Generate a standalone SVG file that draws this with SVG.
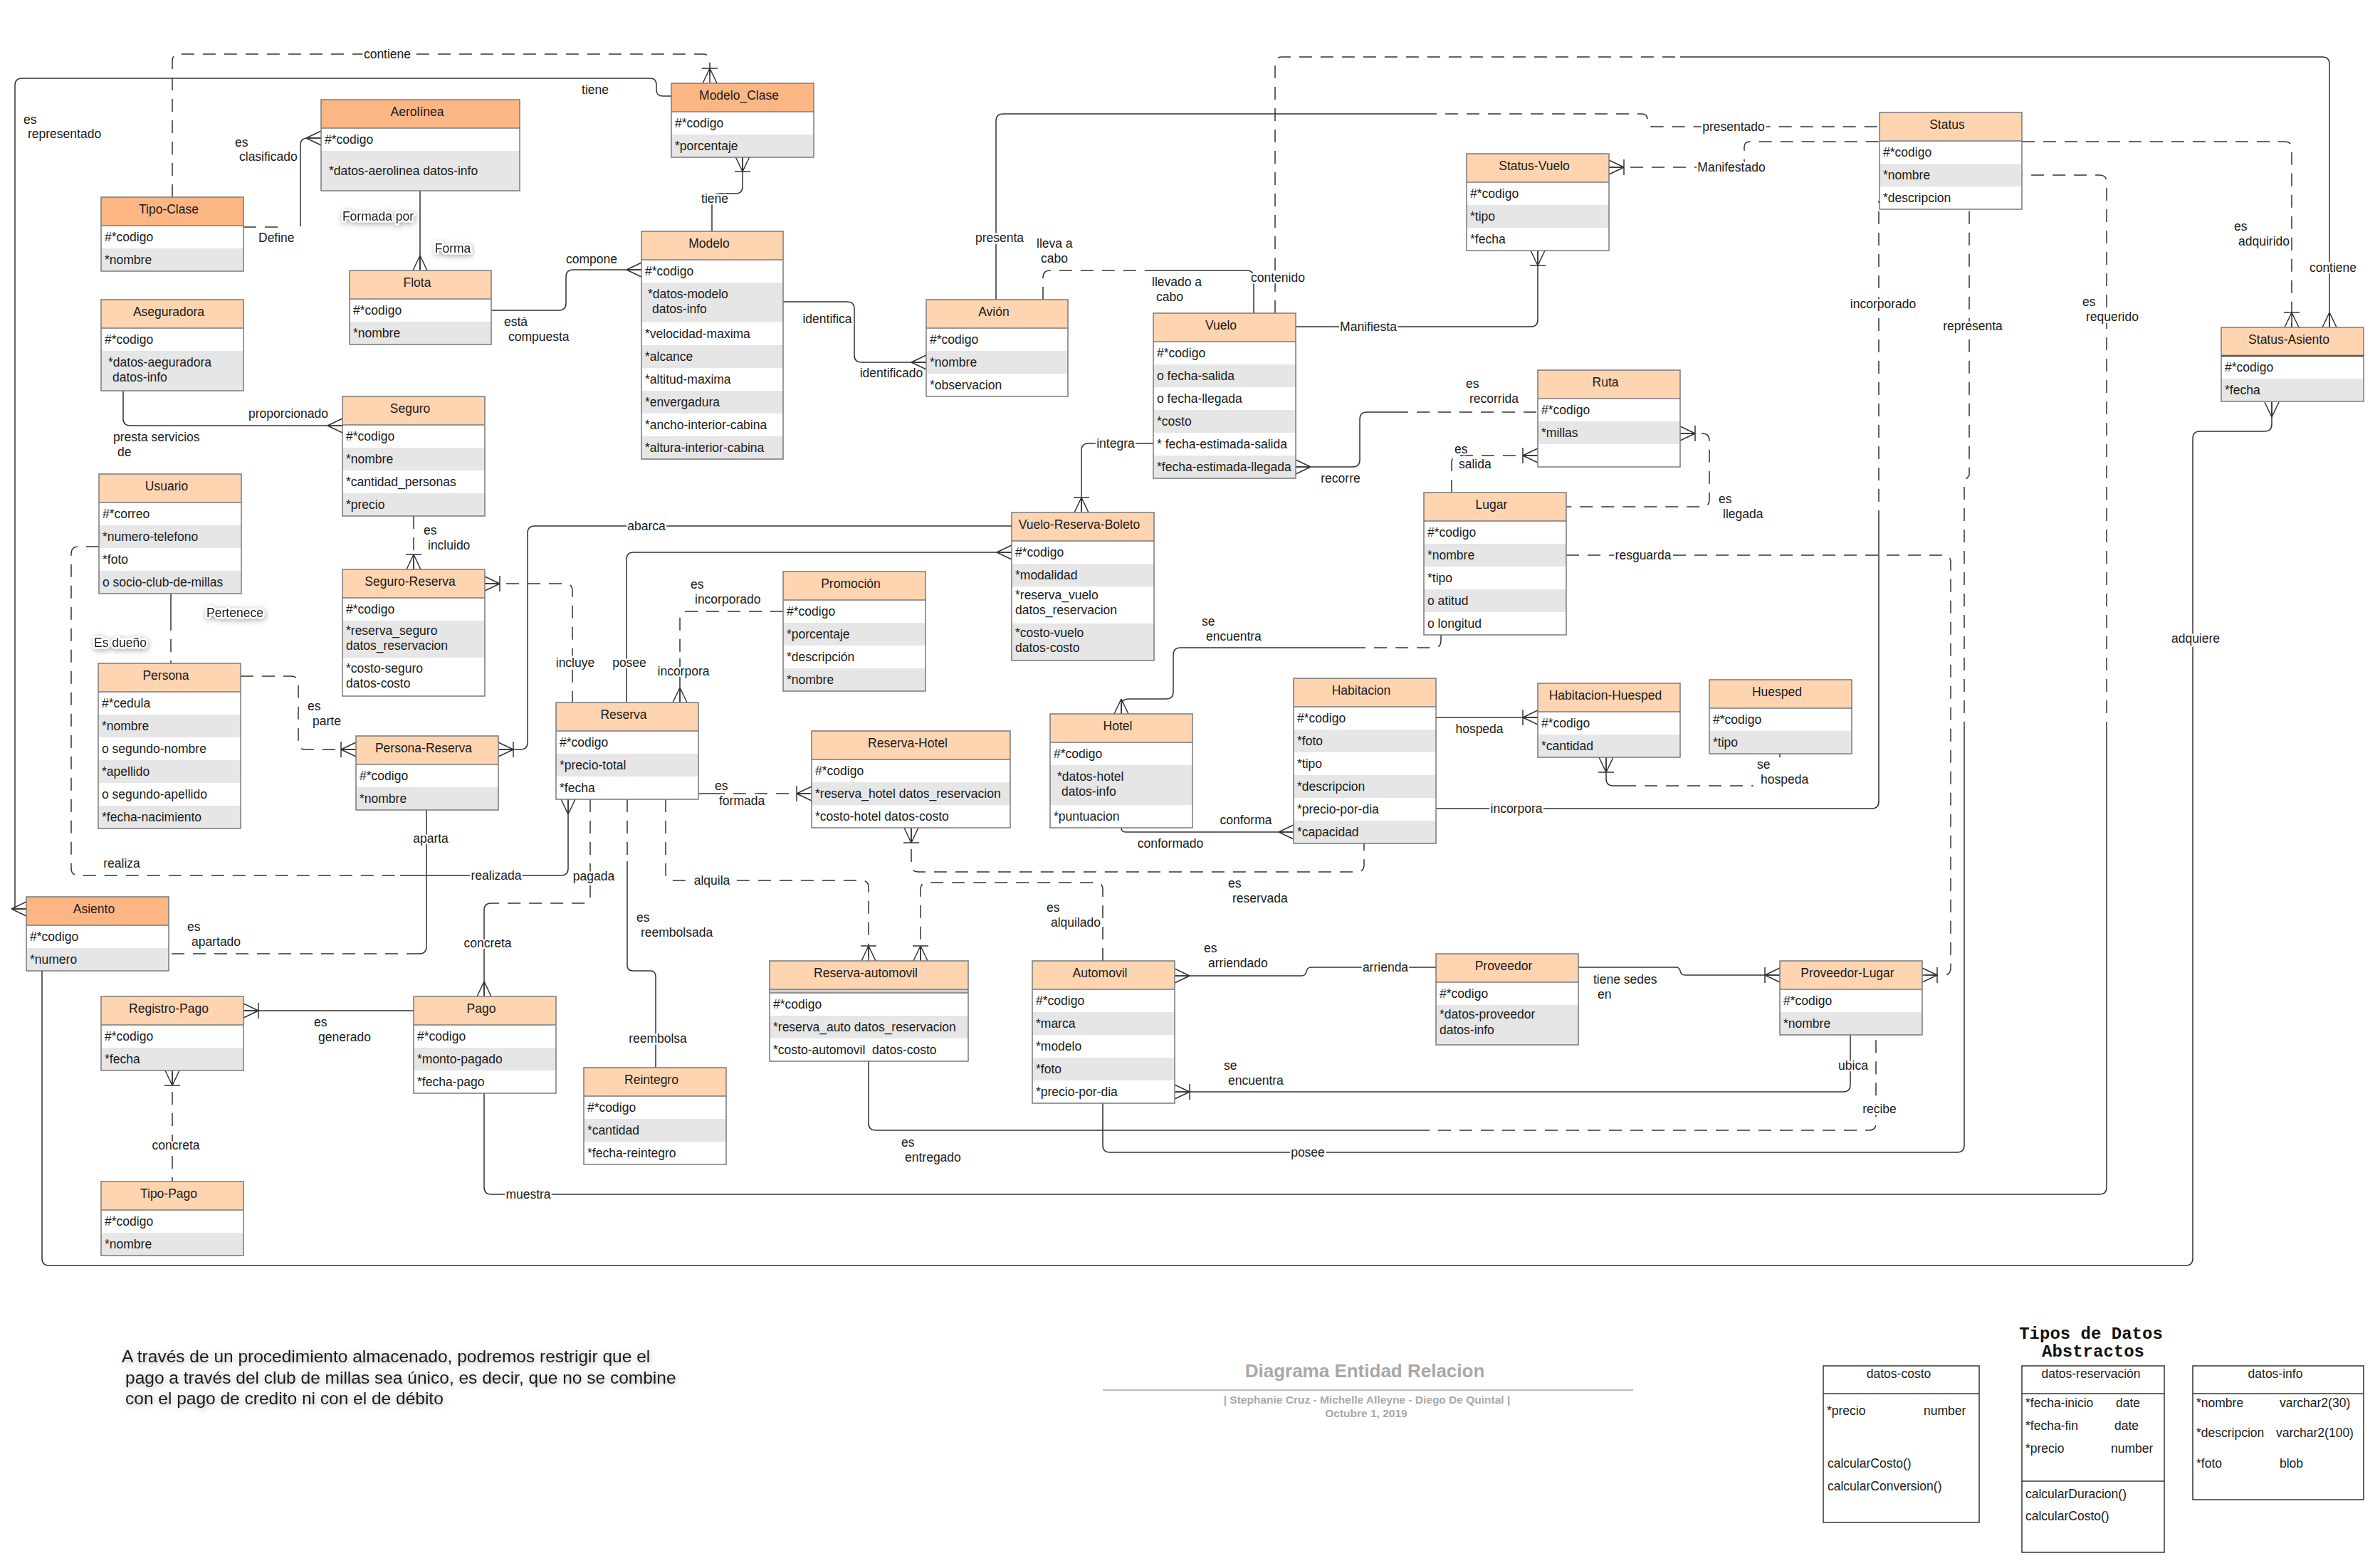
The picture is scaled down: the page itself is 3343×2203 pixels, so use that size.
<svg xmlns="http://www.w3.org/2000/svg" xmlns:xlink="http://www.w3.org/1999/xlink" width="3343" height="2203" viewBox="0 0 3343 2203">
<style>
.hd1{fill:#FFD4B0}
.hd2{fill:#FCB684}
.sh{fill:#E6E6E6}
.wt{fill:#FFFFFF}
.bd{fill:#D0D0D0}
.bx{fill:none;stroke:#7A7A7A;stroke-width:1.5}
.sp{fill:none;stroke:#7A7A7A;stroke-width:1.5}
.ht{font-family:"Liberation Sans",Arial,sans-serif;font-size:17.5px;fill:#1A1A1A;text-anchor:middle}
.rt{font-family:"Liberation Sans",Arial,sans-serif;font-size:17.5px;fill:#1A1A1A}
.lb{font-family:"Liberation Sans",Arial,sans-serif;font-size:17.5px;fill:#1A1A1A;paint-order:stroke;stroke:#FFFFFF;stroke-width:5;stroke-linejoin:round}
.c{text-anchor:middle}
.s{fill:none;stroke:#333333;stroke-width:1.5}
.d{fill:none;stroke:#333333;stroke-width:1.5;stroke-dasharray:18 12}
.mk{fill:none;stroke:#333333;stroke-width:1.5}
.gl{filter:url(#glow)}
.ttl{font-family:"Liberation Sans",Arial,sans-serif;font-weight:bold;fill:#A8A8A8;text-anchor:middle}
.adt{fill:#FFFFFF;stroke:#333333;stroke-width:1.5}
.mono{font-family:"Liberation Mono","Courier New",monospace;font-weight:bold;font-size:24px;fill:#111111;text-anchor:middle}
</style>
<defs>
<path id="m-many" d="M0,-10L21,0M0,0H21M0,10L21,0"/>
<path id="m-one-many" d="M0,-10L21,0M0,0H21M0,10L21,0M21,-11V11"/>
<filter id="glow" x="-10%" y="-60%" width="120%" height="220%">
<feGaussianBlur in="SourceAlpha" stdDeviation="4" result="b"/>
<feFlood flood-color="#000000" flood-opacity="0.35"/>
<feComposite in2="b" operator="in"/>
<feOffset dx="1" dy="2"/>
<feMerge><feMergeNode/><feMergeNode in="SourceGraphic"/></feMerge>
</filter>
</defs>
<rect width="3343" height="2203" fill="#FFFFFF"/>

<!-- relationship lines -->
<g id="connectors">
<path class="d" d="M242,277V86Q242,76 252,76H987Q997,76 997,86V117"/>
<path class="s" d="M943,135H931Q922,135 922,126V119Q922,110 913,110H31Q21,110 21,120V1277H37"/>
<path class="d" d="M342,319H392"/>
<path class="s" d="M422,318V204Q422,194 432,194H451"/>
<path class="s" d="M590,268V380"/>
<path class="s" d="M690,436H785Q795,436 795,426V389Q795,379 805,379H901"/>
<path class="s" d="M1043,220V262Q1043,272 1033,272H1010Q1000,272 1000,282V325"/>
<path class="s" d="M1100,424H1190Q1200,424 1200,434V499Q1200,509 1210,509H1301"/>
<path class="d" d="M1465,421V390Q1465,380 1475,380H1615"/>
<path class="s" d="M1615,380H1751Q1761,380 1761,390V440"/>
<path class="s" d="M1399,421V170Q1399,160 1409,160H2000"/>
<path class="d" d="M2000,160H2306Q2314,160 2314,168V170Q2314,178 2322,178H2640"/>
<path class="d" d="M1791,440V90Q1791,80 1801,80H2360"/>
<path class="s" d="M2360,80H3262Q3272,80 3272,90V460"/>
<path class="d" d="M2260,235H2442Q2450,235 2450,227V207Q2450,199 2458,199H2640"/>
<path class="d" d="M2840,199H3209Q3219,199 3219,209V460"/>
<path class="s" d="M1820,459H2150Q2160,459 2160,449V352"/>
<path class="s" d="M1820,656H1900Q1910,656 1910,646V589Q1910,579 1920,579H1960"/>
<path class="d" d="M1960,579H2160"/>
<path class="d" d="M2039,692V650Q2039,640 2049,640H2160"/>
<path class="d" d="M2360,609H2391Q2401,609 2401,619V702Q2401,712 2391,712H2200"/>
<path class="d" d="M2200,780H2730Q2740,780 2740,790V1360Q2740,1370 2730,1370H2700"/>
<path class="s" d="M2017,1136H2629Q2639,1136 2639,1126V735"/>
<path class="d" d="M2639,735V282"/>
<path class="s" d="M1549,1550V1609Q1549,1619 1559,1619H2749Q2759,1619 2759,1609V1032"/>
<path class="d" d="M2759,1032V676L2766,668V294"/>
<path class="s" d="M680,1536V1668Q680,1678 690,1678H2949Q2959,1678 2959,1668V1032"/>
<path class="d" d="M2959,1032V256Q2959,246 2949,246H2840"/>
<path class="s" d="M59,1364V1768Q59,1778 69,1778H3070Q3080,1778 3080,1768V616Q3080,606 3090,606H3181Q3191,606 3191,596V565"/>
<path class="s" d="M240,834V868"/>
<path class="d" d="M240,868V932"/>
<path class="d" d="M139,768H110Q100,768 100,778V1220Q100,1230 110,1230H562"/>
<path class="s" d="M562,1230H788Q798,1230 798,1220V1123"/>
<path class="d" d="M338,950H409Q419,950 419,960V1043Q419,1053 429,1053H500"/>
<path class="d" d="M581,725V800"/>
<path class="d" d="M681,820H794Q804,820 804,830V987"/>
<path class="s" d="M173,549V588Q173,598 183,598H481"/>
<path class="s" d="M700,1053H731Q741,1053 741,1043V749Q741,739 751,739H1421"/>
<path class="s" d="M880,987V786Q880,776 890,776H1421"/>
<path class="d" d="M1100,859H965Q955,859 955,869V925"/>
<path class="s" d="M955,925V987"/>
<path class="s" d="M981,1115H1000"/>
<path class="d" d="M1000,1115H1140"/>
<path class="d" d="M829,1123V1259Q829,1269 819,1269H690"/>
<path class="s" d="M690,1269Q680,1269 680,1279V1400"/>
<path class="s" d="M599,1138V1330Q599,1340 589,1340"/>
<path class="d" d="M589,1340H237"/>
<path class="d" d="M881,1123V1210"/>
<path class="s" d="M881,1210V1356Q881,1364 889,1364H913Q921,1364 921,1372V1500"/>
<path class="d" d="M935,1123V1227Q935,1237 945,1237H1210Q1220,1237 1220,1247V1350"/>
<path class="d" d="M1280,1163V1215Q1280,1225 1290,1225H1906Q1916,1225 1916,1215V1185"/>
<path class="d" d="M1549,1350V1250Q1549,1240 1539,1240H1303Q1293,1240 1293,1250V1350"/>
<path class="d" d="M2024,892V900Q2024,910 2014,910H1904"/>
<path class="s" d="M1904,910H1658Q1648,910 1648,920V972Q1648,982 1638,982H1585Q1575,982 1575,992V1003"/>
<path class="s" d="M1575,1163Q1575,1169 1581,1169H1817"/>
<path class="s" d="M2017,1008H2160"/>
<path class="s" d="M2256,1064V1094Q2256,1104 2266,1104H2280"/>
<path class="d" d="M2280,1104H2463"/>
<path class="s" d="M2500,1059V1064"/>
<path class="s" d="M1650,1371H1828Q1834,1371 1835,1365Q1836,1359 1842,1359H2017"/>
<path class="s" d="M2217,1359H2354Q2359,1359 2360,1364Q2361,1370 2367,1370H2500"/>
<path class="s" d="M1650,1534H2589Q2599,1534 2599,1524V1454"/>
<path class="s" d="M1220,1491V1578Q1220,1588 1230,1588H1990"/>
<path class="d" d="M1990,1588H2625Q2635,1588 2635,1578V1454"/>
<path class="s" d="M581,1420H342"/>
<path class="d" d="M242,1504V1660"/>
<path class="s" d="M1620,623H1529Q1519,623 1519,633V720"/>

<!-- cardinality ends -->
<use href="#m-one-many" class="mk" transform="translate(997,117) rotate(-90)"/>
<use href="#m-many" class="mk" transform="translate(37,1277) rotate(180)"/>
<use href="#m-many" class="mk" transform="translate(451,194) rotate(180)"/>
<use href="#m-many" class="mk" transform="translate(590,380) rotate(-90)"/>
<use href="#m-many" class="mk" transform="translate(901,379) rotate(180)"/>
<use href="#m-one-many" class="mk" transform="translate(1043,220) rotate(90)"/>
<use href="#m-many" class="mk" transform="translate(1301,509) rotate(180)"/>
<use href="#m-many" class="mk" transform="translate(3272,460) rotate(-90)"/>
<use href="#m-one-many" class="mk" transform="translate(2260,235)"/>
<use href="#m-one-many" class="mk" transform="translate(3219,460) rotate(-90)"/>
<use href="#m-one-many" class="mk" transform="translate(2160,352) rotate(90)"/>
<use href="#m-many" class="mk" transform="translate(1820,656)"/>
<use href="#m-one-many" class="mk" transform="translate(2160,640) rotate(180)"/>
<use href="#m-one-many" class="mk" transform="translate(2360,609)"/>
<use href="#m-one-many" class="mk" transform="translate(2700,1370)"/>
<use href="#m-many" class="mk" transform="translate(3191,565) rotate(90)"/>
<use href="#m-many" class="mk" transform="translate(798,1123) rotate(90)"/>
<use href="#m-one-many" class="mk" transform="translate(500,1053) rotate(180)"/>
<use href="#m-one-many" class="mk" transform="translate(581,800) rotate(-90)"/>
<use href="#m-one-many" class="mk" transform="translate(681,820)"/>
<use href="#m-many" class="mk" transform="translate(481,598) rotate(180)"/>
<use href="#m-one-many" class="mk" transform="translate(700,1053)"/>
<use href="#m-many" class="mk" transform="translate(1421,776) rotate(180)"/>
<use href="#m-many" class="mk" transform="translate(955,987) rotate(-90)"/>
<use href="#m-one-many" class="mk" transform="translate(1140,1115) rotate(180)"/>
<use href="#m-many" class="mk" transform="translate(680,1400) rotate(-90)"/>
<use href="#m-one-many" class="mk" transform="translate(1220,1350) rotate(-90)"/>
<use href="#m-one-many" class="mk" transform="translate(1280,1163) rotate(90)"/>
<use href="#m-one-many" class="mk" transform="translate(1293,1350) rotate(-90)"/>
<use href="#m-many" class="mk" transform="translate(1575,1003) rotate(-90)"/>
<use href="#m-many" class="mk" transform="translate(1817,1169) rotate(180)"/>
<use href="#m-one-many" class="mk" transform="translate(2160,1008) rotate(180)"/>
<use href="#m-one-many" class="mk" transform="translate(2256,1064) rotate(90)"/>
<use href="#m-many" class="mk" transform="translate(1650,1371)"/>
<use href="#m-one-many" class="mk" transform="translate(2500,1370) rotate(180)"/>
<use href="#m-one-many" class="mk" transform="translate(1650,1534)"/>
<use href="#m-one-many" class="mk" transform="translate(342,1420)"/>
<use href="#m-one-many" class="mk" transform="translate(242,1504) rotate(90)"/>
<use href="#m-one-many" class="mk" transform="translate(1519,720) rotate(-90)"/>
</g>

<!-- entities -->
<g id="n-modelo-clase" transform="translate(943,117)">
<rect class="hd2" width="200" height="40"/><rect class="wt" y="40" width="200" height="32"/><rect class="sh" y="72" width="200" height="32"/>
<rect class="bx" width="200" height="104"/><path class="sp" d="M0,40H200"/>
<text class="ht" x="95" y="23">Modelo_Clase</text>
<text class="rt" x="5" y="62">#*codigo</text><text class="rt" x="5" y="94">*porcentaje</text>
</g>
<g id="n-aerolinea" transform="translate(451,140)">
<rect class="hd2" width="279" height="40"/><rect class="wt" y="40" width="279" height="32"/><rect class="sh" y="72" width="279" height="56"/>
<rect class="bx" width="279" height="128"/><path class="sp" d="M0,40H279"/>
<text class="ht" x="135" y="23">Aerolínea</text>
<text class="rt" x="5" y="62">#*codigo</text><text class="rt" x="11" y="106">*datos-aerolinea datos-info</text>
</g>
<g id="n-tipo-clase" transform="translate(142,277)">
<rect class="hd2" width="200" height="40"/><rect class="wt" y="40" width="200" height="32"/><rect class="sh" y="72" width="200" height="32"/>
<rect class="bx" width="200" height="104"/><path class="sp" d="M0,40H200"/>
<text class="ht" x="95" y="23">Tipo-Clase</text>
<text class="rt" x="5" y="62">#*codigo</text><text class="rt" x="5" y="94">*nombre</text>
</g>
<g id="n-flota" transform="translate(491,380)">
<rect class="hd1" width="199" height="40"/><rect class="wt" y="40" width="199" height="32"/><rect class="sh" y="72" width="199" height="32"/>
<rect class="bx" width="199" height="104"/><path class="sp" d="M0,40H199"/>
<text class="ht" x="95" y="23">Flota</text>
<text class="rt" x="5" y="62">#*codigo</text><text class="rt" x="5" y="94">*nombre</text>
</g>
<g id="n-modelo" transform="translate(901,325)">
<rect class="hd1" width="199" height="40"/><rect class="wt" y="40" width="199" height="280"/>
<rect class="sh" y="72" width="199" height="56"/><rect class="sh" y="160" width="199" height="32"/><rect class="sh" y="224" width="199" height="32"/><rect class="sh" y="288" width="199" height="32"/>
<rect class="bx" width="199" height="320"/><path class="sp" d="M0,40H199"/>
<text class="ht" x="95" y="23">Modelo</text>
<text class="rt" x="5" y="62">#*codigo</text>
<text class="rt" x="9" y="94">*datos-modelo</text><text class="rt" x="15" y="115">datos-info</text>
<text class="rt" x="5" y="150">*velocidad-maxima</text>
<text class="rt" x="5" y="182">*alcance</text>
<text class="rt" x="5" y="214">*altitud-maxima</text>
<text class="rt" x="5" y="246">*envergadura</text>
<text class="rt" x="5" y="278">*ancho-interior-cabina</text>
<text class="rt" x="5" y="310">*altura-interior-cabina</text>
</g>
<g id="n-aseguradora" transform="translate(142,421)">
<rect class="hd1" width="200" height="40"/><rect class="wt" y="40" width="200" height="32"/><rect class="sh" y="72" width="200" height="56"/>
<rect class="bx" width="200" height="128"/><path class="sp" d="M0,40H200"/>
<text class="ht" x="95" y="23">Aseguradora</text>
<text class="rt" x="5" y="62">#*codigo</text>
<text class="rt" x="10" y="94">*datos-aeguradora</text><text class="rt" x="16" y="115">datos-info</text>
</g>
<g id="n-seguro" transform="translate(481,557)">
<rect class="hd1" width="200" height="40"/><rect class="wt" y="40" width="200" height="128"/>
<rect class="sh" y="72" width="200" height="32"/><rect class="sh" y="136" width="200" height="32"/>
<rect class="bx" width="200" height="168"/><path class="sp" d="M0,40H200"/>
<text class="ht" x="95" y="23">Seguro</text>
<text class="rt" x="5" y="62">#*codigo</text><text class="rt" x="5" y="94">*nombre</text>
<text class="rt" x="5" y="126">*cantidad_personas</text><text class="rt" x="5" y="158">*precio</text>
</g>
<g id="n-usuario" transform="translate(139,666)">
<rect class="hd1" width="200" height="40"/><rect class="wt" y="40" width="200" height="128"/>
<rect class="sh" y="72" width="200" height="32"/><rect class="sh" y="136" width="200" height="32"/>
<rect class="bx" width="200" height="168"/><path class="sp" d="M0,40H200"/>
<text class="ht" x="95" y="23">Usuario</text>
<text class="rt" x="5" y="62">#*correo</text><text class="rt" x="5" y="94">*numero-telefono</text>
<text class="rt" x="5" y="126">*foto</text><text class="rt" x="5" y="158">o socio-club-de-millas</text>
</g>
<g id="n-seguro-reserva" transform="translate(481,800)">
<rect class="hd1" width="200" height="40"/><rect class="wt" y="40" width="200" height="138"/>
<rect class="sh" y="72" width="200" height="52"/>
<rect class="bx" width="200" height="178"/><path class="sp" d="M0,40H200"/>
<text class="ht" x="95" y="23">Seguro-Reserva</text>
<text class="rt" x="5" y="62">#*codigo</text>
<text class="rt" x="5" y="92">*reserva_seguro</text><text class="rt" x="5" y="113">datos_reservacion</text>
<text class="rt" x="5" y="145">*costo-seguro</text><text class="rt" x="5" y="166">datos-costo</text>
</g>
<g id="n-persona" transform="translate(138,932)">
<rect class="hd1" width="200" height="40"/><rect class="wt" y="40" width="200" height="192"/>
<rect class="sh" y="72" width="200" height="32"/><rect class="sh" y="136" width="200" height="32"/><rect class="sh" y="200" width="200" height="32"/>
<rect class="bx" width="200" height="232"/><path class="sp" d="M0,40H200"/>
<text class="ht" x="95" y="23">Persona</text>
<text class="rt" x="5" y="62">#*cedula</text><text class="rt" x="5" y="94">*nombre</text>
<text class="rt" x="5" y="126">o segundo-nombre</text><text class="rt" x="5" y="158">*apellido</text>
<text class="rt" x="5" y="190">o segundo-apellido</text><text class="rt" x="5" y="222">*fecha-nacimiento</text>
</g>
<g id="n-persona-reserva" transform="translate(500,1034)">
<rect class="hd1" width="200" height="40"/><rect class="wt" y="40" width="200" height="32"/><rect class="sh" y="72" width="200" height="32"/>
<rect class="bx" width="200" height="104"/><path class="sp" d="M0,40H200"/>
<text class="ht" x="95" y="23">Persona-Reserva</text>
<text class="rt" x="5" y="62">#*codigo</text><text class="rt" x="5" y="94">*nombre</text>
</g>
<g id="n-reserva" transform="translate(781,987)">
<rect class="hd1" width="200" height="40"/><rect class="wt" y="40" width="200" height="96"/><rect class="sh" y="72" width="200" height="32"/>
<rect class="bx" width="200" height="136"/><path class="sp" d="M0,40H200"/>
<text class="ht" x="95" y="23">Reserva</text>
<text class="rt" x="5" y="62">#*codigo</text><text class="rt" x="5" y="94">*precio-total</text><text class="rt" x="5" y="126">*fecha</text>
</g>
<g id="n-asiento" transform="translate(37,1260)">
<rect class="hd2" width="200" height="40"/><rect class="wt" y="40" width="200" height="32"/><rect class="sh" y="72" width="200" height="32"/>
<rect class="bx" width="200" height="104"/><path class="sp" d="M0,40H200"/>
<text class="ht" x="95" y="23">Asiento</text>
<text class="rt" x="5" y="62">#*codigo</text><text class="rt" x="5" y="94">*numero</text>
</g>
<g id="n-registro-pago" transform="translate(142,1400)">
<rect class="hd1" width="200" height="40"/><rect class="wt" y="40" width="200" height="32"/><rect class="sh" y="72" width="200" height="32"/>
<rect class="bx" width="200" height="104"/><path class="sp" d="M0,40H200"/>
<text class="ht" x="95" y="23">Registro-Pago</text>
<text class="rt" x="5" y="62">#*codigo</text><text class="rt" x="5" y="94">*fecha</text>
</g>
<g id="n-pago" transform="translate(581,1400)">
<rect class="hd1" width="200" height="40"/><rect class="wt" y="40" width="200" height="96"/><rect class="sh" y="72" width="200" height="32"/>
<rect class="bx" width="200" height="136"/><path class="sp" d="M0,40H200"/>
<text class="ht" x="95" y="23">Pago</text>
<text class="rt" x="5" y="62">#*codigo</text><text class="rt" x="5" y="94">*monto-pagado</text><text class="rt" x="5" y="126">*fecha-pago</text>
</g>
<g id="n-tipo-pago" transform="translate(142,1660)">
<rect class="hd1" width="200" height="40"/><rect class="wt" y="40" width="200" height="32"/><rect class="sh" y="72" width="200" height="32"/>
<rect class="bx" width="200" height="104"/><path class="sp" d="M0,40H200"/>
<text class="ht" x="95" y="23">Tipo-Pago</text>
<text class="rt" x="5" y="62">#*codigo</text><text class="rt" x="5" y="94">*nombre</text>
</g>
<g id="n-reintegro" transform="translate(820,1500)">
<rect class="hd1" width="200" height="40"/><rect class="wt" y="40" width="200" height="96"/><rect class="sh" y="72" width="200" height="32"/>
<rect class="bx" width="200" height="136"/><path class="sp" d="M0,40H200"/>
<text class="ht" x="95" y="23">Reintegro</text>
<text class="rt" x="5" y="62">#*codigo</text><text class="rt" x="5" y="94">*cantidad</text><text class="rt" x="5" y="126">*fecha-reintegro</text>
</g>
<g id="n-promocion" transform="translate(1100,803)">
<rect class="hd1" width="200" height="40"/><rect class="wt" y="40" width="200" height="128"/>
<rect class="sh" y="72" width="200" height="32"/><rect class="sh" y="136" width="200" height="32"/>
<rect class="bx" width="200" height="168"/><path class="sp" d="M0,40H200"/>
<text class="ht" x="95" y="23">Promoción</text>
<text class="rt" x="5" y="62">#*codigo</text><text class="rt" x="5" y="94">*porcentaje</text>
<text class="rt" x="5" y="126">*descripción</text><text class="rt" x="5" y="158">*nombre</text>
</g>
<g id="n-vuelo-reserva-boleto" transform="translate(1421,720)">
<rect class="hd1" width="200" height="40"/><rect class="wt" y="40" width="200" height="168"/>
<rect class="sh" y="72" width="200" height="32"/><rect class="sh" y="156" width="200" height="52"/>
<rect class="bx" width="200" height="208"/><path class="sp" d="M0,40H200"/>
<text class="ht" x="95" y="23">Vuelo-Reserva-Boleto</text>
<text class="rt" x="5" y="62">#*codigo</text><text class="rt" x="5" y="94">*modalidad</text>
<text class="rt" x="5" y="122">*reserva_vuelo</text><text class="rt" x="5" y="143">datos_reservacion</text>
<text class="rt" x="5" y="175">*costo-vuelo</text><text class="rt" x="5" y="196">datos-costo</text>
</g>
<g id="n-avion" transform="translate(1301,421)">
<rect class="hd1" width="199" height="40"/><rect class="wt" y="40" width="199" height="96"/><rect class="sh" y="72" width="199" height="32"/>
<rect class="bx" width="199" height="136"/><path class="sp" d="M0,40H199"/>
<text class="ht" x="95" y="23">Avión</text>
<text class="rt" x="5" y="62">#*codigo</text><text class="rt" x="5" y="94">*nombre</text><text class="rt" x="5" y="126">*observacion</text>
</g>
<g id="n-vuelo" transform="translate(1620,440)">
<rect class="hd1" width="200" height="40"/><rect class="wt" y="40" width="200" height="192"/>
<rect class="sh" y="72" width="200" height="32"/><rect class="sh" y="136" width="200" height="32"/><rect class="sh" y="200" width="200" height="32"/>
<rect class="bx" width="200" height="232"/><path class="sp" d="M0,40H200"/>
<text class="ht" x="95" y="23">Vuelo</text>
<text class="rt" x="5" y="62">#*codigo</text><text class="rt" x="5" y="94">o fecha-salida</text>
<text class="rt" x="5" y="126">o fecha-llegada</text><text class="rt" x="5" y="158">*costo</text>
<text class="rt" x="5" y="190">* fecha-estimada-salida</text><text class="rt" x="5" y="222">*fecha-estimada-llegada</text>
</g>
<g id="n-status-vuelo" transform="translate(2060,216)">
<rect class="hd1" width="200" height="40"/><rect class="wt" y="40" width="200" height="96"/><rect class="sh" y="72" width="200" height="32"/>
<rect class="bx" width="200" height="136"/><path class="sp" d="M0,40H200"/>
<text class="ht" x="95" y="23">Status-Vuelo</text>
<text class="rt" x="5" y="62">#*codigo</text><text class="rt" x="5" y="94">*tipo</text><text class="rt" x="5" y="126">*fecha</text>
</g>
<g id="n-status" transform="translate(2640,158)">
<rect class="hd1" width="200" height="40"/><rect class="wt" y="40" width="200" height="96"/><rect class="sh" y="72" width="200" height="32"/>
<rect class="bx" width="200" height="136"/><path class="sp" d="M0,40H200"/>
<text class="ht" x="95" y="23">Status</text>
<text class="rt" x="5" y="62">#*codigo</text><text class="rt" x="5" y="94">*nombre</text><text class="rt" x="5" y="126">*descripcion</text>
</g>
<g id="n-status-asiento" transform="translate(3120,460)">
<rect class="hd1" width="200" height="40"/><rect class="wt" y="40" width="200" height="32"/><rect class="sh" y="72" width="200" height="32"/>
<rect class="bx" width="200" height="104"/><path class="sp" d="M0,40H200" style="stroke:#555555;stroke-width:2.5"/>
<text class="ht" x="95" y="23">Status-Asiento</text>
<text class="rt" x="5" y="62">#*codigo</text><text class="rt" x="5" y="94">*fecha</text>
</g>
<g id="n-ruta" transform="translate(2160,520)">
<rect class="hd1" width="200" height="40"/><rect class="wt" y="40" width="200" height="96"/><rect class="sh" y="72" width="200" height="32"/>
<rect class="bx" width="200" height="136"/><path class="sp" d="M0,40H200"/>
<text class="ht" x="95" y="23">Ruta</text>
<text class="rt" x="5" y="62">#*codigo</text><text class="rt" x="5" y="94">*millas</text>
</g>
<g id="n-lugar" transform="translate(2000,692)">
<rect class="hd1" width="200" height="40"/><rect class="wt" y="40" width="200" height="160"/>
<rect class="sh" y="72" width="200" height="32"/><rect class="sh" y="136" width="200" height="32"/>
<rect class="bx" width="200" height="200"/><path class="sp" d="M0,40H200"/>
<text class="ht" x="95" y="23">Lugar</text>
<text class="rt" x="5" y="62">#*codigo</text><text class="rt" x="5" y="94">*nombre</text><text class="rt" x="5" y="126">*tipo</text>
<text class="rt" x="5" y="158">o atitud</text><text class="rt" x="5" y="190">o longitud</text>
</g>
<g id="n-hotel" transform="translate(1475,1003)">
<rect class="hd1" width="200" height="40"/><rect class="wt" y="40" width="200" height="120"/><rect class="sh" y="72" width="200" height="56"/>
<rect class="bx" width="200" height="160"/><path class="sp" d="M0,40H200"/>
<text class="ht" x="95" y="23">Hotel</text>
<text class="rt" x="5" y="62">#*codigo</text>
<text class="rt" x="10" y="94">*datos-hotel</text><text class="rt" x="16" y="115">datos-info</text>
<text class="rt" x="5" y="150">*puntuacion</text>
</g>
<g id="n-habitacion" transform="translate(1817,953)">
<rect class="hd1" width="200" height="40"/><rect class="wt" y="40" width="200" height="192"/>
<rect class="sh" y="72" width="200" height="32"/><rect class="sh" y="136" width="200" height="32"/><rect class="sh" y="200" width="200" height="32"/>
<rect class="bx" width="200" height="232"/><path class="sp" d="M0,40H200"/>
<text class="ht" x="95" y="23">Habitacion</text>
<text class="rt" x="5" y="62">#*codigo</text><text class="rt" x="5" y="94">*foto</text>
<text class="rt" x="5" y="126">*tipo</text><text class="rt" x="5" y="158">*descripcion</text>
<text class="rt" x="5" y="190">*precio-por-dia</text><text class="rt" x="5" y="222">*capacidad</text>
</g>
<g id="n-reserva-hotel" transform="translate(1140,1027)">
<rect class="hd1" width="279" height="40"/><rect class="wt" y="40" width="279" height="96"/><rect class="sh" y="72" width="279" height="32"/>
<rect class="bx" width="279" height="136"/><path class="sp" d="M0,40H279"/>
<text class="ht" x="135" y="23">Reserva-Hotel</text>
<text class="rt" x="5" y="62">#*codigo</text><text class="rt" x="5" y="94">*reserva_hotel datos_reservacion</text><text class="rt" x="5" y="126">*costo-hotel datos-costo</text>
</g>
<g id="n-habitacion-huesped" transform="translate(2160,960)">
<rect class="hd1" width="200" height="40"/><rect class="wt" y="40" width="200" height="32"/><rect class="sh" y="72" width="200" height="32"/>
<rect class="bx" width="200" height="104"/><path class="sp" d="M0,40H200"/>
<text class="ht" x="95" y="23">Habitacion-Huesped</text>
<text class="rt" x="5" y="62">#*codigo</text><text class="rt" x="5" y="94">*cantidad</text>
</g>
<g id="n-huesped" transform="translate(2401,955)">
<rect class="hd1" width="200" height="40"/><rect class="wt" y="40" width="200" height="32"/><rect class="sh" y="72" width="200" height="32"/>
<rect class="bx" width="200" height="104"/><path class="sp" d="M0,40H200"/>
<text class="ht" x="95" y="23">Huesped</text>
<text class="rt" x="5" y="62">#*codigo</text><text class="rt" x="5" y="94">*tipo</text>
</g>
<g id="n-reserva-automovil" transform="translate(1081,1350)">
<rect class="hd1" width="279" height="40"/><rect class="bd" y="40" width="279" height="5"/><rect class="wt" y="45" width="279" height="96"/><rect class="sh" y="77" width="279" height="32"/>
<rect class="bx" width="279" height="141"/><path class="sp" d="M0,40H279M0,45H279"/>
<text class="ht" x="135" y="23">Reserva-automovil</text>
<text class="rt" x="5" y="67">#*codigo</text><text class="rt" x="5" y="99">*reserva_auto datos_reservacion</text><text class="rt" x="5" y="131" xml:space="preserve">*costo-automovil  datos-costo</text>
</g>
<g id="n-automovil" transform="translate(1450,1350)">
<rect class="hd1" width="200" height="40"/><rect class="wt" y="40" width="200" height="160"/>
<rect class="sh" y="72" width="200" height="32"/><rect class="sh" y="136" width="200" height="32"/>
<rect class="bx" width="200" height="200"/><path class="sp" d="M0,40H200"/>
<text class="ht" x="95" y="23">Automovil</text>
<text class="rt" x="5" y="62">#*codigo</text><text class="rt" x="5" y="94">*marca</text><text class="rt" x="5" y="126">*modelo</text>
<text class="rt" x="5" y="158">*foto</text><text class="rt" x="5" y="190">*precio-por-dia</text>
</g>
<g id="n-proveedor" transform="translate(2017,1340)">
<rect class="hd1" width="200" height="40"/><rect class="wt" y="40" width="200" height="32"/><rect class="sh" y="72" width="200" height="56"/>
<rect class="bx" width="200" height="128"/><path class="sp" d="M0,40H200"/>
<text class="ht" x="95" y="23">Proveedor</text>
<text class="rt" x="5" y="62">#*codigo</text>
<text class="rt" x="5" y="91">*datos-proveedor</text><text class="rt" x="5" y="113">datos-info</text>
</g>
<g id="n-proveedor-lugar" transform="translate(2500,1350)">
<rect class="hd1" width="200" height="40"/><rect class="wt" y="40" width="200" height="32"/><rect class="sh" y="72" width="200" height="32"/>
<rect class="bx" width="200" height="104"/><path class="sp" d="M0,40H200"/>
<text class="ht" x="95" y="23">Proveedor-Lugar</text>
<text class="rt" x="5" y="62">#*codigo</text><text class="rt" x="5" y="94">*nombre</text>
</g>

<!-- relationship names -->
<g id="connector-labels">
<text class="lb c" x="544" y="82">contiene</text>
<text class="lb c" x="836" y="132">tiene</text>
<text class="lb" x="33" y="174">es</text><text class="lb" x="39" y="194">representado</text>
<text class="lb" x="330" y="206">es</text><text class="lb" x="336" y="226">clasificado</text>
<text class="lb" x="363" y="340">Define</text>
<text class="lb c gl" x="531" y="310">Formada por</text>
<text class="lb c gl" x="636" y="355">Forma</text>
<text class="lb c" x="831" y="370">compone</text>
<text class="lb" x="708" y="458">está</text><text class="lb" x="714" y="479">compuesta</text>
<text class="lb c" x="1004" y="285">tiene</text>
<text class="lb c" x="1162" y="454">identifica</text>
<text class="lb c" x="1252" y="530">identificado</text>
<text class="lb c" x="1404" y="340">presenta</text>
<text class="lb" x="1456" y="348">lleva a</text><text class="lb" x="1462" y="369">cabo</text>
<text class="lb" x="1618" y="402">llevado a</text><text class="lb" x="1624" y="423">cabo</text>
<text class="lb c" x="1795" y="396">contenido</text>
<text class="lb c" x="1922" y="465">Manifiesta</text>
<text class="lb c" x="2435" y="184">presentado</text>
<text class="lb c" x="2432" y="241">Manifestado</text>
<text class="lb" x="3138" y="324">es</text><text class="lb" x="3144" y="345">adquirido</text>
<text class="lb c" x="3277" y="382">contiene</text>
<text class="lb c" x="2645" y="433">incorporado</text>
<text class="lb c" x="2771" y="464">representa</text>
<text class="lb" x="2925" y="430">es</text><text class="lb" x="2930" y="451">requerido</text>
<text class="lb" x="2059" y="545">es</text><text class="lb" x="2064" y="566">recorrida</text>
<text class="lb c" x="1883" y="678">recorre</text>
<text class="lb c" x="1567" y="629">integra</text>
<text class="lb" x="2043" y="637">es</text><text class="lb" x="2049" y="658">salida</text>
<text class="lb" x="2414" y="707">es</text><text class="lb" x="2420" y="728">llegada</text>
<text class="lb c" x="2308" y="786">resguarda</text>
<text class="lb c" x="3084" y="903">adquiere</text>
<text class="lb c" x="405" y="587">proporcionado</text>
<text class="lb" x="159" y="620">presta servicios</text><text class="lb" x="165" y="641">de</text>
<text class="lb" x="595" y="751">es</text><text class="lb" x="601" y="772">incluido</text>
<text class="lb c" x="908" y="745">abarca</text>
<text class="lb c gl" x="330" y="867">Pertenece</text>
<text class="lb c gl" x="169" y="909">Es dueño</text>
<text class="lb" x="432" y="998">es</text><text class="lb" x="439" y="1019">parte</text>
<text class="lb c" x="808" y="937">incluye</text>
<text class="lb c" x="884" y="937">posee</text>
<text class="lb" x="970" y="827">es</text><text class="lb" x="976" y="848">incorporado</text>
<text class="lb c" x="960" y="949">incorpora</text>
<text class="lb" x="1004" y="1110">es</text><text class="lb" x="1010" y="1131">formada</text>
<text class="lb" x="1688" y="879">se</text><text class="lb" x="1694" y="900">encuentra</text>
<text class="lb c" x="2078" y="1030">hospeda</text>
<text class="lb" x="2468" y="1080">se</text><text class="lb" x="2473" y="1101">hospeda</text>
<text class="lb c" x="2130" y="1142">incorpora</text>
<text class="lb c" x="1750" y="1158">conforma</text>
<text class="lb c" x="1644" y="1191">conformado</text>
<text class="lb c" x="605" y="1184">aparta</text>
<text class="lb c" x="171" y="1219">realiza</text>
<text class="lb c" x="697" y="1236">realizada</text>
<text class="lb c" x="834" y="1237">pagada</text>
<text class="lb c" x="1000" y="1243">alquila</text>
<text class="lb" x="1725" y="1247">es</text><text class="lb" x="1731" y="1268">reservada</text>
<text class="lb" x="1470" y="1281">es</text><text class="lb" x="1476" y="1302">alquilado</text>
<text class="lb" x="263" y="1308">es</text><text class="lb" x="269" y="1329">apartado</text>
<text class="lb" x="894" y="1295">es</text><text class="lb" x="900" y="1316">reembolsada</text>
<text class="lb c" x="685" y="1331">concreta</text>
<text class="lb" x="1691" y="1338">es</text><text class="lb" x="1697" y="1359">arriendado</text>
<text class="lb c" x="1946" y="1365">arrienda</text>
<text class="lb" x="2238" y="1382">tiene sedes</text><text class="lb" x="2244" y="1403">en</text>
<text class="lb" x="441" y="1442">es</text><text class="lb" x="447" y="1463">generado</text>
<text class="lb c" x="924" y="1465">reembolsa</text>
<text class="lb" x="1719" y="1503">se</text><text class="lb" x="1725" y="1524">encuentra</text>
<text class="lb c" x="2603" y="1503">ubica</text>
<text class="lb c" x="2640" y="1564">recibe</text>
<text class="lb" x="1266" y="1611">es</text><text class="lb" x="1271" y="1632">entregado</text>
<text class="lb c" x="247" y="1615">concreta</text>
<text class="lb c" x="1837" y="1625">posee</text>
<text class="lb c" x="742" y="1684">muestra</text>
</g>

<!-- note on payment restriction -->
<g id="note" class="gl" font-family="Liberation Sans, Arial, sans-serif" font-size="24.5" fill="#1A1A1A">
<text x="171" y="1914">A través de un procedimiento almacenado, podremos restrigir que el</text>
<text x="176" y="1944">pago a través del club de millas sea único, es decir, que no se combine</text>
<text x="176" y="1973">con el pago de credito ni con el de débito</text>
</g>

<!-- title block -->
<g id="title-block">
<text class="ttl" x="1917" y="1935" font-size="26">Diagrama Entidad Relacion</text>
<path d="M1549,1953H2294" stroke="#BDBDBD" stroke-width="2"/>
<text class="ttl" x="1920" y="1972" font-size="15.5">| Stephanie Cruz - Michelle Alleyne - Diego De Quintal |</text>
<text class="ttl" x="1919" y="1991" font-size="15.5">Octubre 1, 2019</text>
</g>

<!-- abstract data types -->
<g id="adt-title">
<text class="mono" x="2937" y="1881">Tipos de Datos</text>
<text class="mono" x="2940" y="1906">Abstractos</text>
</g>
<g id="adt-datos-costo">
<rect class="adt" x="2561" y="1919" width="219" height="220"/>
<path class="adt" d="M2561,1958H2780"/>
<text class="ht" x="2667" y="1936">datos-costo</text>
<text class="rt" x="2566" y="1988">*precio</text><text class="rt" x="2702" y="1988">number</text>
<text class="rt" x="2567" y="2062">calcularCosto()</text>
<text class="rt" x="2567" y="2094">calcularConversion()</text>
</g>
<g id="adt-datos-reservacion">
<rect class="adt" x="2840" y="1919" width="200" height="262"/>
<path class="adt" d="M2840,1958H3040M2840,2081H3040"/>
<text class="ht" x="2937" y="1936">datos-reservación</text>
<text class="rt" x="2845" y="1977">*fecha-inicio</text><text class="rt" x="2972" y="1977">date</text>
<text class="rt" x="2845" y="2009">*fecha-fin</text><text class="rt" x="2970" y="2009">date</text>
<text class="rt" x="2845" y="2041">*precio</text><text class="rt" x="2965" y="2041">number</text>
<text class="rt" x="2845" y="2105">calcularDuracion()</text>
<text class="rt" x="2845" y="2136">calcularCosto()</text>
</g>
<g id="adt-datos-info">
<rect class="adt" x="3080" y="1919" width="240" height="188"/>
<path class="adt" d="M3080,1958H3320"/>
<text class="ht" x="3196" y="1936">datos-info</text>
<text class="rt" x="3085" y="1977">*nombre</text><text class="rt" x="3202" y="1977">varchar2(30)</text>
<text class="rt" x="3085" y="2019">*descripcion</text><text class="rt" x="3197" y="2019">varchar2(100)</text>
<text class="rt" x="3085" y="2062">*foto</text><text class="rt" x="3202" y="2062">blob</text>
</g>
</svg>
